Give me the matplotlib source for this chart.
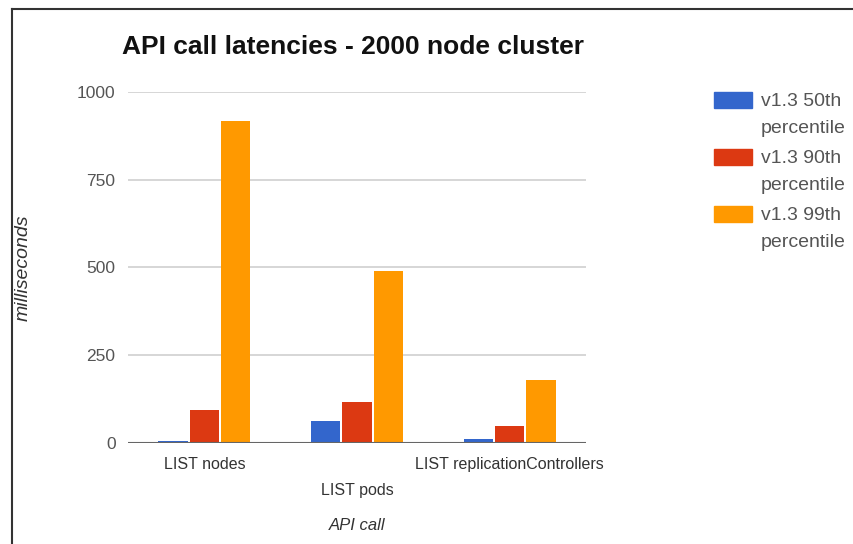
import numpy as np
import matplotlib
matplotlib.use("Agg")
import matplotlib.pyplot as plt
from matplotlib.lines import Line2D
from matplotlib.patches import Rectangle

categories = ["LIST nodes", "LIST pods", "LIST replicationControllers"]
series_names = ["v1.3 50th\npercentile", "v1.3 90th\npercentile", "v1.3 99th\npercentile"]
p50 = [6, 63, 11]
p90 = [93, 117, 47]
p99 = [917, 489, 178]
colors = ["#3366cc", "#dc3912", "#ff9900"]

plt.rcParams['font.family'] = ['Liberation Sans', 'DejaVu Sans']

fig = plt.figure(figsize=(8.54, 5.44), dpi=100)
ax = fig.add_axes([0.150, 0.186, 0.536, 0.645])

x = np.arange(len(categories))
w = 0.205
for i, vals in enumerate([p50, p90, p99]):
    ax.bar(x + (i - 1) * w, vals, width=w * 0.94, color=colors[i], zorder=3)

ax.set_xlim(-0.5, 2.5)
ax.set_ylim(0, 1000)
ax.set_yticks([0, 250, 500, 750, 1000])
ax.yaxis.grid(True, color="#d0d0d0", linewidth=1.2, zorder=0)
ax.axhline(0, color="#666666", linewidth=1.5, zorder=4)
for s in ax.spines.values():
    s.set_visible(False)
ax.tick_params(axis="y", length=0, pad=9, labelsize=12.5, labelcolor="#555555")
ax.tick_params(axis="x", length=0, pad=10, labelsize=11.5, labelcolor="#333333")
ax.set_xticks(x)
# middle label sits one row lower, as in the original chart
ax.set_xticklabels(["LIST nodes", "\nLIST pods", "LIST replicationControllers"])
ax.get_xticklabels()[1].set_linespacing(1.95)

ax.set_ylabel("milliseconds", style="italic", fontsize=14, color="#333333")
ax.yaxis.set_label_coords(-0.210, 0.5)
ax.set_xlabel("API call", style="italic", fontsize=12, color="#333333")
ax.xaxis.set_label_coords(0.5, -0.215)

fig.text(0.143, 0.913, "API call latencies - 2000 node cluster", fontsize=19,
         fontweight="bold", color="#111111", va="center", ha="left")

# legend drawn by hand: swatch lines up with the first line of its label
for i, name in enumerate(series_names):
    top = 1 - (92 + 57 * i) / 544
    fig.add_artist(Rectangle((0.836, top - 0.0294), 0.0445, 0.0294,
                             transform=fig.transFigure, color=colors[i]))
    fig.text(0.891, top - 0.002, name, fontsize=14, color="#555555",
             va="top", ha="left", linespacing=1.75)

# outer frame of the screenshot
fig.add_artist(Line2D([0.014, 0.014], [0, 0.984], color="#333333", linewidth=1.5))
fig.add_artist(Line2D([0.014, 1.0], [0.984, 0.984], color="#333333", linewidth=1.5))

fig.savefig("out.png", dpi=100)
